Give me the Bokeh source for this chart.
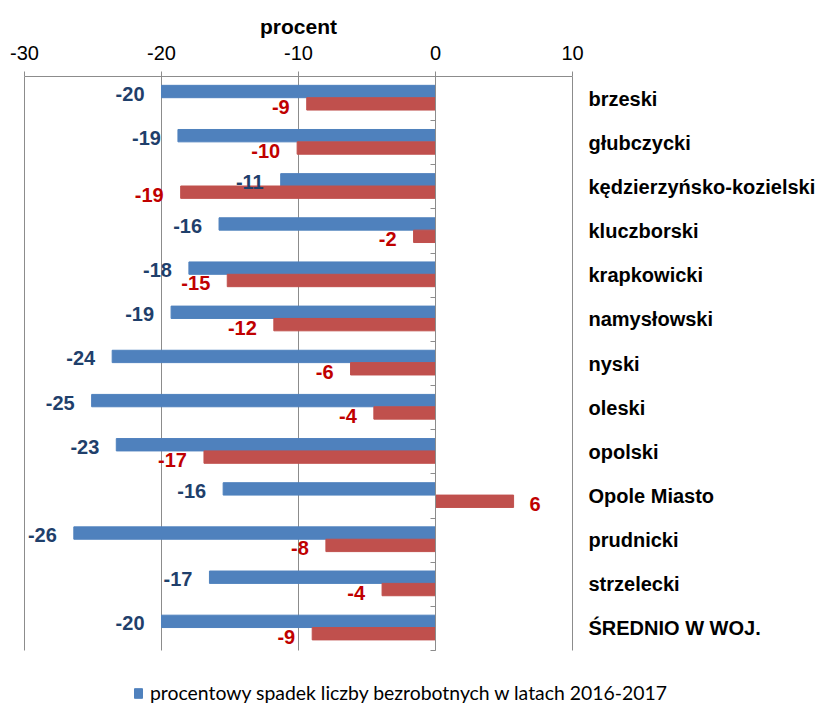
from bokeh.plotting import figure
from bokeh.models import (Range1d, LinearAxis, FixedTicker, ColumnDataSource,
                          Legend, LegendItem, Title)
from bokeh.embed import file_html
from bokeh.resources import INLINE

categories = ["brzeski", "głubczycki", "kędzierzyńsko-kozielski", "kluczborski",
              "krapkowicki", "namysłowski", "nyski", "oleski", "opolski",
              "Opole Miasto", "prudnicki", "strzelecki", "ŚREDNIO W WOJ."]
spadek_2016_2017 = [-20.0, -18.8, -11.3, -15.8, -18.0, -19.3, -23.6, -25.1, -23.3,
                    -15.5, -26.4, -16.5, -20.0]
zmiana_2 = [-9.4, -10.1, -18.6, -1.6, -15.2, -11.8, -6.2, -4.5, -16.9,
            5.7, -8.0, -3.9, -9.0]
label_blue = [-20, -19, -11, -16, -18, -19, -24, -25, -23, -16, -26, -17, -20]
label_red = [-9, -10, -19, -2, -15, -12, -6, -4, -17, 6, -8, -4, -9]
x_ticks = [-30, -20, -10, 0, 10]
axis_title = "procent"
legend_label = "procentowy spadek liczby bezrobotnych w latach 2016-2017"

n = len(categories)
idx = list(range(n))
BLUE = "#4F81BD"
RED = "#C0504D"
GRID = "#8C8C8C"

# layout (pixels): value axis spans 24..572 px, category area 76..650 px
W, H = 819, 704
ax_left, ax_right = 24.0, 572.0
px_per_unit = (ax_right - ax_left) / (x_ticks[-1] - x_ticks[0])
x_start = x_ticks[0] - ax_left / px_per_unit
x_end = x_ticks[-1] + (W - ax_right) / px_per_unit
cat_px = 574.0 / n
extra = (H - 76 - 574.0) / cat_px

p = figure(width=W, height=H,
           x_range=Range1d(x_start, x_end),
           y_range=Range1d(n + extra, 0),
           x_axis_location="above", y_axis_location=None,
           output_backend="svg", toolbar_location=None,
           frame_width=W, frame_height=H - 76,
           min_border_left=0, min_border_right=0, min_border_top=76,
           min_border_bottom=0)
p.outline_line_color = None
p.background_fill_color = "white"

# axis title, centred over the value axis
p.title = Title(text=axis_title, align="left", offset=(ax_left + ax_right) / 2 - 38.5,
                text_font="Liberation Sans", text_font_size="21px",
                text_font_style="bold", text_color="black", standoff=9)

# top axis
xa = p.xaxis[0]
xa.ticker = FixedTicker(ticks=x_ticks)
xa.bounds = (x_ticks[0], x_ticks[-1])
xa.major_label_overrides = {t: str(t) for t in x_ticks}
xa.axis_line_color = GRID
xa.major_tick_line_color = GRID
xa.major_tick_out = 5
xa.major_tick_in = 0
xa.minor_tick_line_color = None
xa.major_label_text_font = "Liberation Sans"
xa.major_label_text_font_size = "20px"
xa.major_label_text_color = "black"
xa.major_label_standoff = 12

p.xgrid.grid_line_color = None
p.ygrid.grid_line_color = None

# vertical gridlines only over the category area
p.segment(x0=x_ticks, y0=[0] * len(x_ticks), x1=x_ticks, y1=[n] * len(x_ticks),
          line_color=GRID, line_width=1)

# zero axis with category boundary ticks
za = LinearAxis(fixed_location=0, ticker=FixedTicker(ticks=list(range(n + 1))),
                bounds=(0, n))
za.axis_line_color = GRID
za.major_tick_line_color = GRID
za.major_tick_out = 5
za.major_tick_in = 0
za.minor_tick_line_color = None
za.major_label_text_font_size = "0px"
za.major_label_text_alpha = 0
p.add_layout(za, "left")

# category labels to the right of the value axis
p.text(x=[x_ticks[-1]] * n, y=[i + 0.5 for i in idx], text=categories,
       x_offset=16, y_offset=0, text_align="left", text_baseline="middle",
       text_font={"value": "Liberation Sans"}, text_font_size="20px",
       text_font_style="bold", text_color="black")

src = ColumnDataSource(dict(
    y_blue=[i + 0.34 for i in idx], y_red=[i + 0.62 for i in idx],
    blue=spadek_2016_2017, red=zmiana_2,
    lb=[str(v) for v in label_blue], lr=[str(v) for v in label_red],
    align_b=["right" if v < 0 else "left" for v in spadek_2016_2017],
    align_r=["right" if v < 0 else "left" for v in zmiana_2],
    off_b=[-17 if v < 0 else 16 for v in spadek_2016_2017],
    off_r=[-17 if v < 0 else 16 for v in zmiana_2],
))

rb = p.hbar(y="y_blue", left=0, right="blue", height=0.28, source=src,
            fill_color=BLUE, line_color=BLUE)
rr = p.hbar(y="y_red", left=0, right="red", height=0.28, source=src,
            fill_color=RED, line_color=RED)

p.text(x="blue", y="y_blue", text="lb", source=src, text_align="align_b",
       x_offset="off_b", y_offset=2, text_baseline="middle",
       text_font={"value": "Liberation Sans"}, text_font_size="20px",
       text_font_style="bold", text_color="#1F3F6B")
p.text(x="red", y="y_red", text="lr", source=src, text_align="align_r",
       x_offset="off_r", y_offset=3, text_baseline="middle",
       text_font={"value": "Liberation Sans"}, text_font_size="20px",
       text_font_style="bold", text_color="#C00000")

legend = Legend(items=[LegendItem(label=legend_label, renderers=[rb])],
                location=(133, 0), orientation="horizontal",
                border_line_color=None, background_fill_alpha=0,
                label_text_font="Lato", label_text_font_size="19.4px",
                label_text_color="black", glyph_width=10, glyph_height=12,
                label_standoff=7, padding=0, margin=0)
p.add_layout(legend, "center")

open("out.html", "w").write(file_html(p, INLINE))
